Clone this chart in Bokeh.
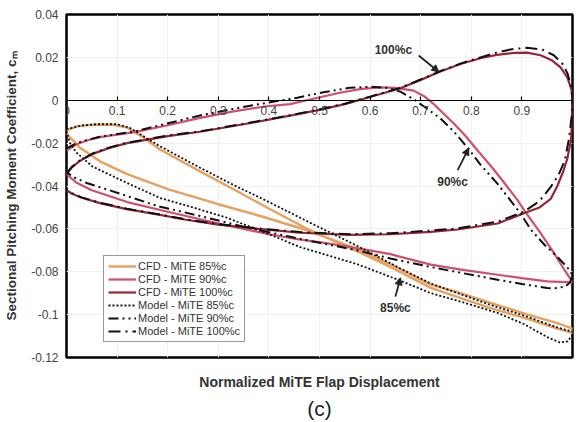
from bokeh.plotting import figure
from bokeh.models import (FixedTicker, Legend, LegendItem, Label, Arrow, NormalHead, LinearAxis, Title)
from bokeh.embed import file_html
from bokeh.resources import INLINE

# ---------------- data ----------------
x_ticks = [0, 0.1, 0.2, 0.3, 0.4, 0.5, 0.6, 0.7, 0.8, 0.9]
x_tick_labels = ["0", "0.1", "0.2", "0.3", "0.4", "0.5", "0.6", "0.7", "0.8", "0.9"]
y_ticks = [-0.12, -0.1, -0.08, -0.06, -0.04, -0.02, 0, 0.02, 0.04]
y_tick_labels = ["-0.12", "-0.1", "-0.08", "-0.06", "-0.04", "-0.02", "0", "0.02", "0.04"]

series_names = ["CFD - MiTE 85%c", "CFD - MiTE 90%c", "CFD - MiTE 100%c",
                "Model - MiTE 85%c", "Model - MiTE 90%c", "Model - MiTE 100%c"]

# CFD 85%c loop
cfd85_x = [0, 0.02, 0.05, 0.09, 0.12, 0.15, 0.185, 0.264, 0.33, 0.396, 0.48, 0.575, 0.64, 0.72, 0.838, 0.905, 0.97, 1.0,
           1.0, 0.97, 0.905, 0.838, 0.773, 0.72, 0.64, 0.575, 0.48, 0.383, 0.3, 0.2, 0.12, 0.066, 0.026, 0]
cfd85_y = [-0.0140, -0.0122, -0.0114, -0.0113, -0.0128, -0.0170, -0.0230, -0.0332, -0.0415, -0.0500, -0.0605, -0.0705,
           -0.0778, -0.0875, -0.0970, -0.1015, -0.1065, -0.1085,
           -0.1065, -0.1040, -0.0995, -0.0945, -0.0895, -0.0860, -0.0765, -0.0695, -0.0610, -0.0540, -0.0485, -0.0415,
           -0.0345, -0.0285, -0.0220, -0.0155]

# CFD 90%c loop
cfd90_x = [0, 0.02, 0.04, 0.066, 0.1, 0.132, 0.198, 0.264, 0.33, 0.396, 0.442, 0.49, 0.54, 0.58, 0.62, 0.65, 0.686,
           0.706, 0.726, 0.745, 0.766, 0.79, 0.812, 0.84, 0.865, 0.891, 0.905, 0.937, 0.96, 0.977, 0.992, 1.0,
           1.0, 0.95, 0.9, 0.852, 0.78, 0.72, 0.64, 0.574, 0.51, 0.462, 0.4, 0.33, 0.264, 0.2, 0.12, 0.05, 0.02, 0]
cfd90_y = [-0.0235, -0.0205, -0.0188, -0.0172, -0.0160, -0.0150, -0.0118, -0.0082, -0.0052, -0.0028, -0.0018, 0.0008,
           0.0035, 0.0052, 0.0060, 0.0058, 0.0045, 0.0020, -0.0018, -0.0062, -0.0110, -0.0170, -0.0233, -0.0310,
           -0.0385, -0.0465, -0.0515, -0.0620, -0.0700, -0.0765, -0.0820, -0.0845,
           -0.0850, -0.0845, -0.0830, -0.0814, -0.0790, -0.0767, -0.0718, -0.0690, -0.0665, -0.0650, -0.0625, -0.0590,
           -0.0555, -0.0520, -0.0475, -0.0420, -0.0385, -0.0345]

# CFD 100%c loop
cfd100_x = [0, 0.01, 0.025, 0.052, 0.085, 0.12, 0.2, 0.264, 0.35, 0.442, 0.5, 0.55, 0.6, 0.66, 0.7, 0.74, 0.78, 0.818,
            0.85, 0.885, 0.91, 0.937, 0.96, 0.977, 0.99, 0.998, 1.0,
            0.999, 0.997, 0.99, 0.982, 0.97, 0.957, 0.935, 0.905, 0.852, 0.773, 0.72, 0.64, 0.56, 0.462, 0.38, 0.3,
            0.23, 0.185, 0.119, 0.066, 0.03, 0.01, 0]
cfd100_y = [-0.0345, -0.0315, -0.0285, -0.0250, -0.0222, -0.0200, -0.0167, -0.0147, -0.0112, -0.0072, -0.0045, -0.0018,
            0.0015, 0.0056, 0.0095, 0.0135, 0.0170, 0.0196, 0.0212, 0.0221, 0.0222, 0.0210, 0.0185, 0.0152, 0.0105,
            0.0050, 0.0,
            -0.0100, -0.0186, -0.0270, -0.0330, -0.0400, -0.0460, -0.0500, -0.0526, -0.0575, -0.0603, -0.0614,
            -0.0625, -0.0628, -0.0618, -0.0600, -0.0580, -0.0555, -0.0535, -0.0508, -0.0480, -0.0455, -0.0435, -0.0420]

# Model 85%c loop
mod85_x = [0, 0.03, 0.06, 0.1, 0.125, 0.15, 0.185, 0.264, 0.33, 0.396, 0.482, 0.575, 0.66, 0.72, 0.838, 0.905, 0.97, 1.0,
           1.0, 0.99, 0.975, 0.95, 0.905, 0.852, 0.78, 0.72, 0.66, 0.575, 0.462, 0.4, 0.317, 0.25, 0.185, 0.119, 0.052,
           0.02, 0.007, 0]
mod85_y = [-0.0135, -0.0118, -0.0112, -0.0112, -0.0128, -0.0165, -0.0215, -0.0315, -0.0395, -0.0470, -0.0572, -0.0680,
           -0.0785, -0.0855, -0.0955, -0.1005, -0.1060, -0.1080,
           -0.1095, -0.1125, -0.1130, -0.1105, -0.1045, -0.0992, -0.0940, -0.0900, -0.0842, -0.0765, -0.0685, -0.0625,
           -0.0548, -0.0500, -0.0456, -0.0385, -0.0310, -0.0245, -0.0200, -0.0150]

# Model 90%c loop
mod90_x = [0, 0.02, 0.04, 0.066, 0.132, 0.198, 0.264, 0.33, 0.396, 0.456, 0.508, 0.56, 0.6, 0.635, 0.66, 0.686, 0.71,
           0.739, 0.765, 0.792, 0.818, 0.852, 0.875, 0.897, 0.918, 0.945, 0.97, 0.99, 1.0,
           0.995, 0.985, 0.965, 0.95, 0.9, 0.852, 0.78, 0.72, 0.64, 0.574, 0.5, 0.44, 0.35, 0.264, 0.21, 0.185, 0.13,
           0.085, 0.04, 0.015, 0]
mod90_y = [-0.0225, -0.0200, -0.0186, -0.0170, -0.0147, -0.0109, -0.0071, -0.0040, -0.0012, 0.0012, 0.0037, 0.0058,
           0.0063, 0.0058, 0.0040, 0.0005, -0.0035, -0.0085, -0.0145, -0.0219, -0.0300, -0.0390, -0.0460, -0.0527,
           -0.0605, -0.0675, -0.0730, -0.0780, -0.0815,
           -0.0850, -0.0870, -0.0877, -0.0876, -0.0857, -0.0837, -0.0805, -0.0778, -0.0738, -0.0700, -0.0665, -0.0636,
           -0.0590, -0.0540, -0.0510, -0.0497, -0.0455, -0.0420, -0.0386, -0.0360, -0.0335]

# Model 100%c loop
mod100_x = [0, 0.01, 0.025, 0.052, 0.085, 0.12, 0.2, 0.264, 0.35, 0.442, 0.5, 0.55, 0.6, 0.66, 0.7, 0.74, 0.78, 0.818,
            0.85, 0.88, 0.91, 0.94, 0.963, 0.98, 0.99, 0.998, 1.0,
            0.998, 0.993, 0.985, 0.972, 0.957, 0.935, 0.904, 0.852, 0.773, 0.72, 0.64, 0.56, 0.462, 0.38, 0.3, 0.23,
            0.185, 0.119, 0.066, 0.03, 0.01, 0]
mod100_y = [-0.0340, -0.0312, -0.0283, -0.0248, -0.0220, -0.0198, -0.0165, -0.0145, -0.0110, -0.0070, -0.0043,
            -0.0016, 0.0017, 0.0058, 0.0097, 0.0137, 0.0172, 0.0200, 0.0222, 0.0238, 0.0245, 0.0237, 0.0210, 0.0170,
            0.0126, 0.0060, 0.0,
            -0.0080, -0.0180, -0.0280, -0.0350, -0.0404, -0.0470, -0.0520, -0.0566, -0.0598, -0.0608, -0.0620, -0.0625,
            -0.0615, -0.0598, -0.0578, -0.0553, -0.0533, -0.0506, -0.0478, -0.0453, -0.0433, -0.0418]

FONT = "Liberation Sans"

p = figure(width=585, height=422, x_range=(0, 1), y_range=(-0.12, 0.04),
           output_backend="svg", toolbar_location=None,
           min_border_left=66, min_border_right=13, min_border_top=14, min_border_bottom=10)
p.background_fill_color = "white"
p.border_fill_color = "white"
p.outline_line_color = "black"
p.outline_line_width = 2.5

# x axis drawn along y = 0
p.xaxis.fixed_location = 0
p.xaxis.ticker = FixedTicker(ticks=x_ticks)
p.xaxis.major_label_overrides = dict(zip(x_ticks, x_tick_labels))
p.xaxis.major_tick_in = 4
p.xaxis.major_tick_out = 0
p.xaxis.minor_tick_line_color = None
p.xaxis.axis_line_color = "black"
p.xaxis.axis_line_width = 1.2
p.xaxis.major_tick_line_color = "black"
p.xaxis.major_tick_line_width = 1.2
p.xaxis.major_label_text_font = FONT
p.xaxis.major_label_text_font_size = "12px"
p.xaxis.major_label_text_color = "#444444"
p.xaxis.major_label_standoff = 6

# axis that only carries the x title below the frame
title_axis = LinearAxis(ticker=FixedTicker(ticks=[]), axis_line_color=None,
                        major_tick_line_color=None, minor_tick_line_color=None,
                        major_label_text_font_size="0px", major_label_standoff=0,
                        axis_label="Normalized MiTE Flap Displacement",
                        axis_label_text_font=FONT, axis_label_text_font_size="14px",
                        axis_label_text_font_style="bold", axis_label_text_color="#333333",
                        axis_label_standoff=16)
p.add_layout(title_axis, "below")
p.add_layout(Title(text="(c)", align="center", text_font=FONT, text_font_size="21px",
                   text_font_style="normal", text_color="#222222", standoff=5), "below")

p.yaxis.ticker = FixedTicker(ticks=y_ticks)
p.yaxis.major_label_overrides = dict(zip(y_ticks, y_tick_labels))
p.yaxis.major_tick_in = 0
p.yaxis.major_tick_out = 0
p.yaxis.minor_tick_line_color = None
p.yaxis.axis_line_color = None
p.yaxis.major_label_text_font = FONT
p.yaxis.major_label_text_font_size = "12px"
p.yaxis.major_label_text_color = "#444444"
p.yaxis.major_label_standoff = 8
p.yaxis.axis_label = "Sectional Pitching Moment Coefficient, c\u2098"
p.yaxis.axis_label_text_font = FONT
p.yaxis.axis_label_text_font_size = "13.5px"
p.yaxis.axis_label_text_font_style = "bold"
p.yaxis.axis_label_text_color = "#333333"
p.yaxis.axis_label_standoff = 9

p.xgrid.grid_line_color = "#f0f0f0"
p.ygrid.grid_line_color = "#f0f0f0"

c85 = p.line(cfd85_x, cfd85_y, line_color="#E6A060", line_width=2.4)
c90 = p.line(cfd90_x, cfd90_y, line_color="#CF506A", line_width=2.2)
c100 = p.line(cfd100_x, cfd100_y, line_color="#962636", line_width=2.2)
m85 = p.line(mod85_x, mod85_y, line_color="#111111", line_width=1.8, line_dash="2 2")
m90 = p.line(mod90_x, mod90_y, line_color="#111111", line_width=2, line_dash="10 4 2 4 2 4")
m100 = p.line(mod100_x, mod100_y, line_color="#111111", line_width=2, line_dash="12 5 2 5")

renderers = [c85, c90, c100, m85, m90, m100]
legend = Legend(items=[LegendItem(label=n, renderers=[r]) for n, r in zip(series_names, renderers)],
                location=(37, 15), margin=0, padding=4, spacing=1,
                glyph_width=28, glyph_height=12, label_height=12, label_standoff=2,
                label_text_font=FONT, label_text_font_size="11px", label_text_color="#333333",
                border_line_color="#333333", border_line_width=1.5,
                background_fill_color="white", background_fill_alpha=1)
p.add_layout(legend)

# curve annotations
for txt, tx, ty in [("100%c", 0.646, 0.0233), ("90%c", 0.763, -0.0381), ("85%c", 0.650, -0.0967)]:
    p.add_layout(Label(x=tx, y=ty, text=txt, text_font=FONT, text_font_size="12px", text_font_style="bold",
                       text_color="#333333", text_align="center", text_baseline="middle"))
for xs, ys, xe, ye in [(0.696, 0.0209, 0.736, 0.0132), (0.773, -0.0326, 0.795, -0.0223),
                       (0.650, -0.0916, 0.660, -0.0828)]:
    p.add_layout(Arrow(end=NormalHead(size=7, fill_color="#222222", line_color="#222222"),
                       x_start=xs, y_start=ys, x_end=xe, y_end=ye, line_color="#222222", line_width=1.8))

open("out.html", "w").write(file_html(p, INLINE))
